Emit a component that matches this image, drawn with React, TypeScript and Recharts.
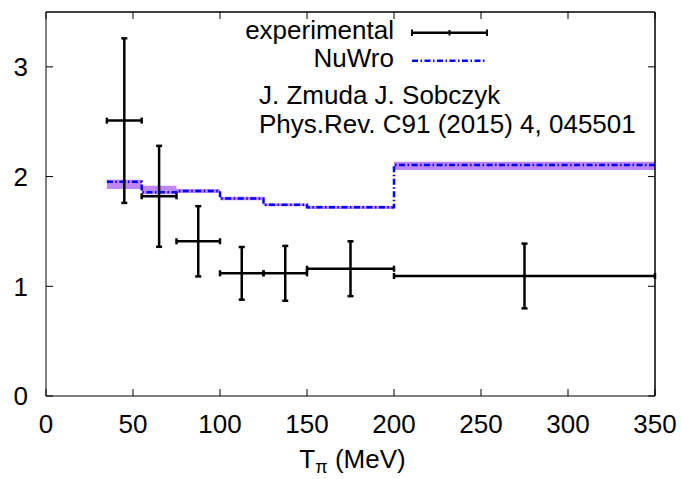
import React from 'react';
import {
  ComposedChart,
  Line,
  Area,
  Scatter,
  ErrorBar,
  XAxis,
  YAxis,
  Legend,
  ReferenceLine,
} from 'recharts';

// ---- data ----
const expX = [45, 65, 87.5, 112.5, 137.5, 175, 275];
const expXErr = [10, 10, 12.5, 12.5, 12.5, 25, 75];
const expY = [2.51, 1.82, 1.41, 1.118, 1.118, 1.16, 1.094];
const expYErr = [0.75, 0.46, 0.32, 0.24, 0.25, 0.25, 0.295];

const nuwroEdges = [35, 55, 75, 100, 125, 150, 200, 350];
const nuwroY = [1.953, 1.858, 1.869, 1.8, 1.744, 1.72, 2.106];
const bandLow = [1.887, 1.84, 1.85, 1.785, 1.73, 1.705, 2.06];
const bandHigh = [1.97, 1.917, 1.887, 1.815, 1.755, 1.735, 2.135];

const xTicks = [0, 50, 100, 150, 200, 250, 300, 350];
const yTicks = [0, 1, 2, 3];
const xMax = 350;
const yMax = 3.5;

const legendNames = ['experimental', 'NuWro'];
const noteLines = ['J. Zmuda J. Sobczyk', 'Phys.Rev. C91 (2015) 4, 045501'];

// ---- derived tables ----
const expData = expX.map((x, i) => ({ x, y: expY[i], xErr: expXErr[i], yErr: expYErr[i] }));
const stepData = nuwroEdges.map((x, i) => {
  const k = Math.min(i, nuwroY.length - 1);
  return { x, y: nuwroY[k], band: [bandLow[k], bandHigh[k]] };
});

const FONT = '"Liberation Sans", Arial, Helvetica, sans-serif';
const FS = 26;
const BLUE = '#0000ff';
const BAND = '#bf86f8';
const DASH = '6 2.5 1.5 2.5';

const renderXLabel = (props: any) => {
  const vb = props.viewBox || {};
  const cx = (vb.x ?? 46) + (vb.width ?? 609) / 2;
  return (
    <text x={cx + 2} y={468} textAnchor="middle" fontFamily={FONT} fontSize={FS} fill="#000">
      <tspan>T</tspan>
      <tspan fontSize={18} dy={5}>π</tspan>
      <tspan dy={-5}> (MeV)</tspan>
    </text>
  );
};

const renderLegend = () => (
  <svg width={681} height={150} style={{ display: 'block' }}>
    <g fontFamily={FONT} fontSize={FS} fill="#000">
      <text x={394} y={39} textAnchor="end">{legendNames[0]}</text>
      <line x1={412} x2={487} y1={32.7} y2={32.7} stroke="#000" strokeWidth={2.5} />
      <line x1={412} x2={412} y1={29.5} y2={36} stroke="#000" strokeWidth={2} />
      <line x1={487} x2={487} y1={29.5} y2={36} stroke="#000" strokeWidth={2} />
      <line x1={449.5} x2={449.5} y1={30} y2={35.5} stroke="#000" strokeWidth={2} />
      <text x={394} y={67} textAnchor="end">{legendNames[1]}</text>
      <line x1={412} x2={487} y1={60.7} y2={60.7} stroke={BLUE} strokeWidth={2.5} strokeDasharray={DASH} />
      <text x={259} y={104}>{noteLines[0]}</text>
      <text x={259} y={133}>{noteLines[1]}</text>
    </g>
  </svg>
);

const emptyTick = () => <g />;

export default function App() {
  return (
    <div style={{ position: 'absolute', left: 0, top: 0, background: '#fff' }}>
      <ComposedChart
        width={681}
        height={479}
        margin={{ top: 11, right: 25, bottom: 0, left: 0 }}
        style={{ fontFamily: FONT }}
      >
        <XAxis
          xAxisId={0}
          dataKey="x"
          type="number"
          domain={[0, xMax]}
          ticks={xTicks}
          allowDataOverflow
          height={83}
          tickSize={-7}
          tickMargin={26}
          stroke="#000"
          axisLine={{ stroke: '#000', strokeWidth: 1 }}
          tickLine={{ stroke: '#000', strokeWidth: 1 }}
          tick={{ fill: '#000', fontSize: FS, fontFamily: FONT }}
          label={{ content: renderXLabel }}
        />
        <XAxis
          xAxisId="top"
          dataKey="x"
          orientation="top"
          type="number"
          domain={[0, xMax]}
          ticks={xTicks}
          allowDataOverflow
          height={1}
          tickSize={-7}
          axisLine={{ stroke: '#000', strokeWidth: 1 }}
          tickLine={{ stroke: '#000', strokeWidth: 1 }}
          tick={emptyTick}
        />
        <YAxis
          yAxisId={0}
          dataKey="y"
          type="number"
          domain={[0, yMax]}
          ticks={yTicks}
          allowDataOverflow
          width={46}
          tickSize={-7}
          tickMargin={25}
          axisLine={{ stroke: '#000', strokeWidth: 1 }}
          tickLine={{ stroke: '#000', strokeWidth: 1 }}
          tick={{ fill: '#000', fontSize: FS, fontFamily: FONT }}
        />
        <YAxis
          yAxisId="right"
          dataKey="y"
          orientation="right"
          type="number"
          domain={[0, yMax]}
          ticks={yTicks}
          allowDataOverflow
          width={1}
          tickSize={-7}
          axisLine={{ stroke: '#000', strokeWidth: 1 }}
          tickLine={{ stroke: '#000', strokeWidth: 1 }}
          tick={emptyTick}
        />
        <Legend
          layout="vertical"
          align="center"
          verticalAlign="middle"
          content={renderLegend}
          wrapperStyle={{ left: 0, top: 0, width: 681, height: 150, pointerEvents: 'none' }}
        />
        <ReferenceLine y={yMax} stroke="#000" strokeWidth={1} ifOverflow="visible" />
        <ReferenceLine x={xMax} stroke="#000" strokeWidth={1} ifOverflow="visible" />
        <Line
          data={stepData}
          dataKey="y"
          xAxisId="top"
          yAxisId="right"
          type="stepAfter"
          stroke="none"
          dot={false}
          activeDot={false}
          legendType="none"
          isAnimationActive={false}
        />
        <Area
          data={stepData}
          dataKey="band"
          type="stepAfter"
          stroke="none"
          fill={BAND}
          fillOpacity={1}
          isAnimationActive={false}
          legendType="none"
          activeDot={false}
        />
        <Line
          data={stepData}
          dataKey="y"
          type="stepAfter"
          stroke={BLUE}
          strokeWidth={2.5}
          strokeDasharray={DASH}
          dot={false}
          activeDot={false}
          isAnimationActive={false}
          name={legendNames[1]}
        />
        <Scatter
          data={expData}
          dataKey="y"
          name={legendNames[0]}
          fill="#000"
          shape={emptyTick}
          isAnimationActive={false}
        >
          <ErrorBar dataKey="xErr" direction="x" width={3} stroke="#000" strokeWidth={2.5} isAnimationActive={false} />
          <ErrorBar dataKey="yErr" direction="y" width={3} stroke="#000" strokeWidth={2.5} isAnimationActive={false} />
        </Scatter>
      </ComposedChart>
    </div>
  );
}
